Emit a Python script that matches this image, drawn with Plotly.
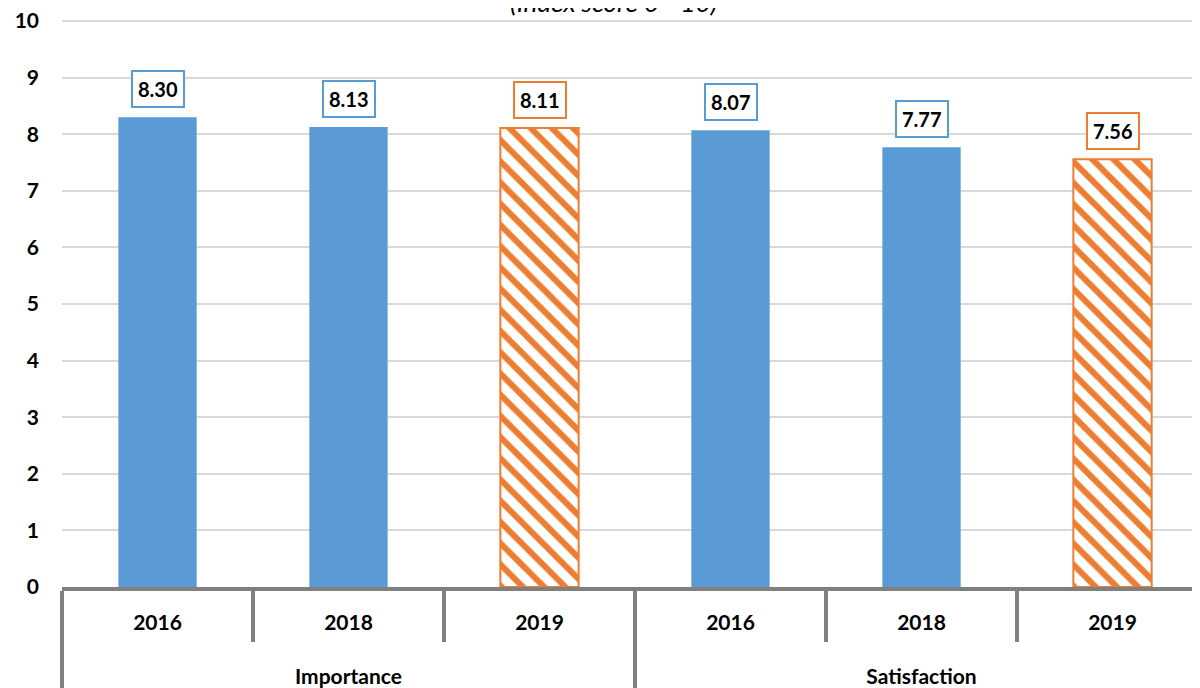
import plotly.graph_objects as go

# data
groups = ['Importance', 'Importance', 'Importance',
          'Satisfaction', 'Satisfaction', 'Satisfaction']
years = ['2016', '2018', '2019', '2016', '2018', '2019']
scores = [8.30, 8.13, 8.11, 8.07, 7.77, 7.56]
labels = ['8.30', '8.13', '8.11', '8.07', '7.77', '7.56']

BLUE = '#5B9BD5'
ORANGE = '#ED7D31'
GREY = '#808080'
FONT = 'Lato, Open Sans, sans-serif'

is_2019 = [y == '2019' for y in years]
# second line in the year labels pushes the group names further down
year_text = [y + "<br><span style='font-size:55px'> </span>" for y in years]
x = [groups, year_text]

# the page body keeps an 8px margin, so the figure is drawn 8px in from the corner
fig = go.Figure()
fig.add_trace(go.Bar(
    x=x,
    y=[None if h else v for v, h in zip(scores, is_2019)],
    width=0.41,
    marker=dict(color=BLUE, line=dict(width=0)),
    hoverinfo='skip',
))
fig.add_trace(go.Bar(
    x=x,
    y=[v if h else None for v, h in zip(scores, is_2019)],
    width=0.41,
    marker=dict(
        color='white',
        line=dict(color=ORANGE, width=2),
        pattern=dict(shape='\\', fgcolor=ORANGE, bgcolor='white',
                     size=15, solidity=0.4, fillmode='replace'),
    ),
    hoverinfo='skip',
))

# boxed value labels above each bar
for i, (v, lab, h) in enumerate(zip(scores, labels, is_2019)):
    fig.add_annotation(
        x=i, y=v, xref='x', yref='y',
        text='<b>%s</b>' % lab,
        showarrow=False,
        yanchor='bottom', yshift=9,
        font=dict(family=FONT, size=20, color='black'),
        bgcolor='white',
        bordercolor=ORANGE if h else BLUE,
        borderwidth=2,
        borderpad=5,
    )

# subtitle, cut by the top edge as in the reference
fig.add_annotation(
    x=(613 - 8 - 54) / 1146, y=1 + 0.5 / 567, xref='paper', yref='paper',
    text='<i>(Index score 0 - 10)</i>',
    showarrow=False, yanchor='bottom',
    font=dict(family=FONT, size=26, color='black'),
)

fig.update_layout(
    width=1200, height=688,
    margin=dict(l=54, r=0, t=12, b=109, autoexpand=False),
    paper_bgcolor='white', plot_bgcolor='white',
    showlegend=False,
    barmode='overlay',
    font=dict(family=FONT, size=21, color='black'),
    yaxis=dict(
        range=[0, 10.02], tickvals=list(range(11)),
        showgrid=True, gridcolor='#D9D9D9', gridwidth=1.5,
        zeroline=False, showline=False,
        tickfont=dict(family=FONT, size=21, color='black', weight='bold'),
        ticklabelstandoff=22,
        ticklabeloverflow='allow',
    ),
    xaxis=dict(
        type='multicategory',
        range=[-0.5, 5.5],
        showline=True, linecolor=GREY, linewidth=4,
        ticks='outside', tickson='boundaries', ticklen=51,
        tickwidth=4, tickcolor=GREY,
        showdividers=True, dividercolor=GREY, dividerwidth=4,
        tickfont=dict(family=FONT, size=21, color='black', weight='bold'),
        ticklabelstandoff=14,
        automargin=False,
    ),
)

fig.write_html('out.html')
